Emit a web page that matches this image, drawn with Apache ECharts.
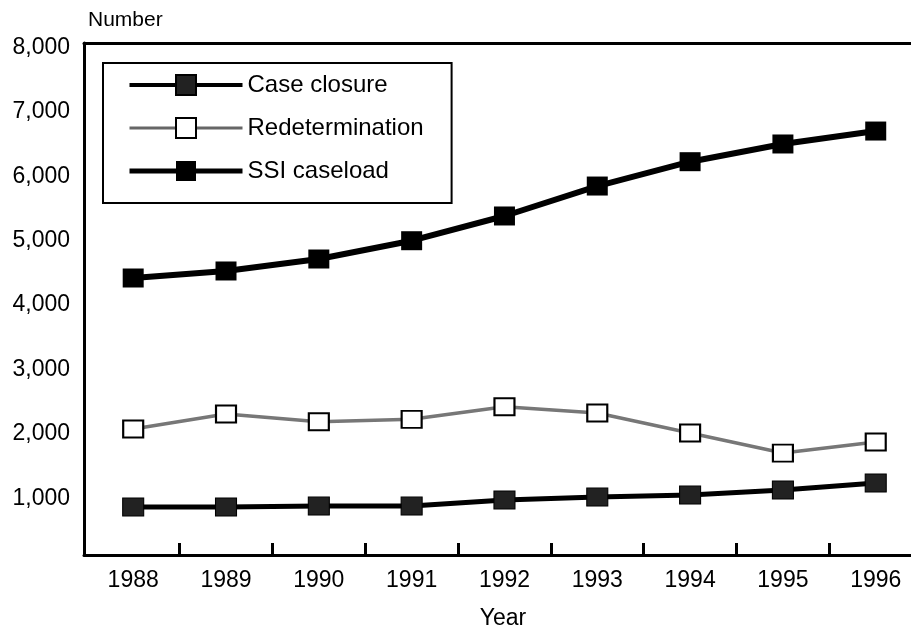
<!DOCTYPE html>
<html><head><meta charset="utf-8">
<script src="https://cdn.jsdelivr.net/npm/echarts@6/dist/echarts.min.js"></script>
<style>html,body{margin:0;padding:0;background:#fff}#c{width:911px;height:629px}</style>
</head><body><div id="c"></div>
<script>
const years = [1988, 1989, 1990, 1991, 1992, 1993, 1994, 1995, 1996];
const caseClosure = [865, 865, 880, 880, 974, 1020, 1051, 1129, 1238];
const redetermination = [2076, 2309, 2189, 2227, 2422, 2325, 2014, 1703, 1874];
const ssiCaseload = [4421, 4530, 4716, 5000, 5384, 5849, 6227, 6502, 6703];
const yTickLabels = [1000, 2000, 3000, 4000, 5000, 6000, 7000, 8000];
const xTickBoundaries = years.slice(0, -1).map(y => y + 0.5);

const FONT = '"Liberation Sans", Arial, Helvetica, sans-serif';
const pairs = arr => years.map((y, i) => [y, arr[i]]);
const X_MIN = 1987.47, X_MAX = 1996.38;

const chart = echarts.init(document.getElementById('c'), null, {renderer: 'canvas'});
chart.setOption({
  backgroundColor: '#fff',
  animation: false,
  textStyle: {fontFamily: FONT, color: '#000'},
  grid: {left: 84, top: 43, right: 0, bottom: 74, show: false},
  graphic: [
    {type: 'text', left: 88, top: 10, style: {text: 'Number', font: '21px ' + FONT, fill: '#000'}},
    {type: 'text', x: 503, y: 619, style: {text: 'Year', font: '23px ' + FONT, fill: '#000', align: 'center', verticalAlign: 'middle'}}
  ],
  legend: {
    orient: 'vertical', left: 103, top: 63,
    padding: [10, 28, 20, 24],
    borderColor: '#000', borderWidth: 2, backgroundColor: '#fff',
    itemWidth: 113, itemHeight: 25, itemGap: 19,
    textStyle: {fontSize: 24, color: '#000', fontFamily: FONT},
    data: [
      {name: 'Case closure', lineStyle: {width: 4, color: '#000'}},
      {name: 'Redetermination', lineStyle: {width: 3, color: '#666'}},
      {name: 'SSI caseload', lineStyle: {width: 5, color: '#000'}}
    ]
  },
  xAxis: [{
    type: 'value', min: X_MIN, max: X_MAX, position: 'bottom',
    axisLine: {show: true, lineStyle: {color: '#000', width: 3}},
    axisTick: {show: true, inside: true, length: 12, customValues: xTickBoundaries, lineStyle: {color: '#000', width: 3}},
    axisLabel: {customValues: years, formatter: v => String(v), fontSize: 23, color: '#000', margin: 14, fontFamily: FONT},
    splitLine: {show: false}
  }, {
    type: 'value', min: X_MIN, max: X_MAX, position: 'top',
    axisLine: {show: true, lineStyle: {color: '#000', width: 3}},
    axisTick: {show: false}, axisLabel: {show: false}, splitLine: {show: false}
  }],
  yAxis: {
    type: 'value', min: 120, max: 8070,
    axisLine: {show: true, lineStyle: {color: '#000', width: 3}},
    axisTick: {show: false},
    axisLabel: {customValues: yTickLabels, formatter: v => v.toLocaleString('en-US'), fontSize: 23, color: '#000', margin: 14, fontFamily: FONT},
    splitLine: {show: false}
  },
  series: [
    {
      name: 'Case closure', type: 'line', data: pairs(caseClosure),
      symbol: 'rect', symbolSize: [21, 18],
      lineStyle: {color: '#000', width: 5},
      itemStyle: {color: '#222', borderColor: '#000', borderWidth: 1}
    },
    {
      name: 'Redetermination', type: 'line', data: pairs(redetermination),
      symbol: 'rect', symbolSize: [20, 17],
      lineStyle: {color: '#777', width: 3.5},
      itemStyle: {color: '#fff', borderColor: '#000', borderWidth: 2}
    },
    {
      name: 'SSI caseload', type: 'line', data: pairs(ssiCaseload),
      symbol: 'rect', symbolSize: [21, 19],
      lineStyle: {color: '#000', width: 6},
      itemStyle: {color: '#000'}
    }
  ]
});
</script>
</body></html>
